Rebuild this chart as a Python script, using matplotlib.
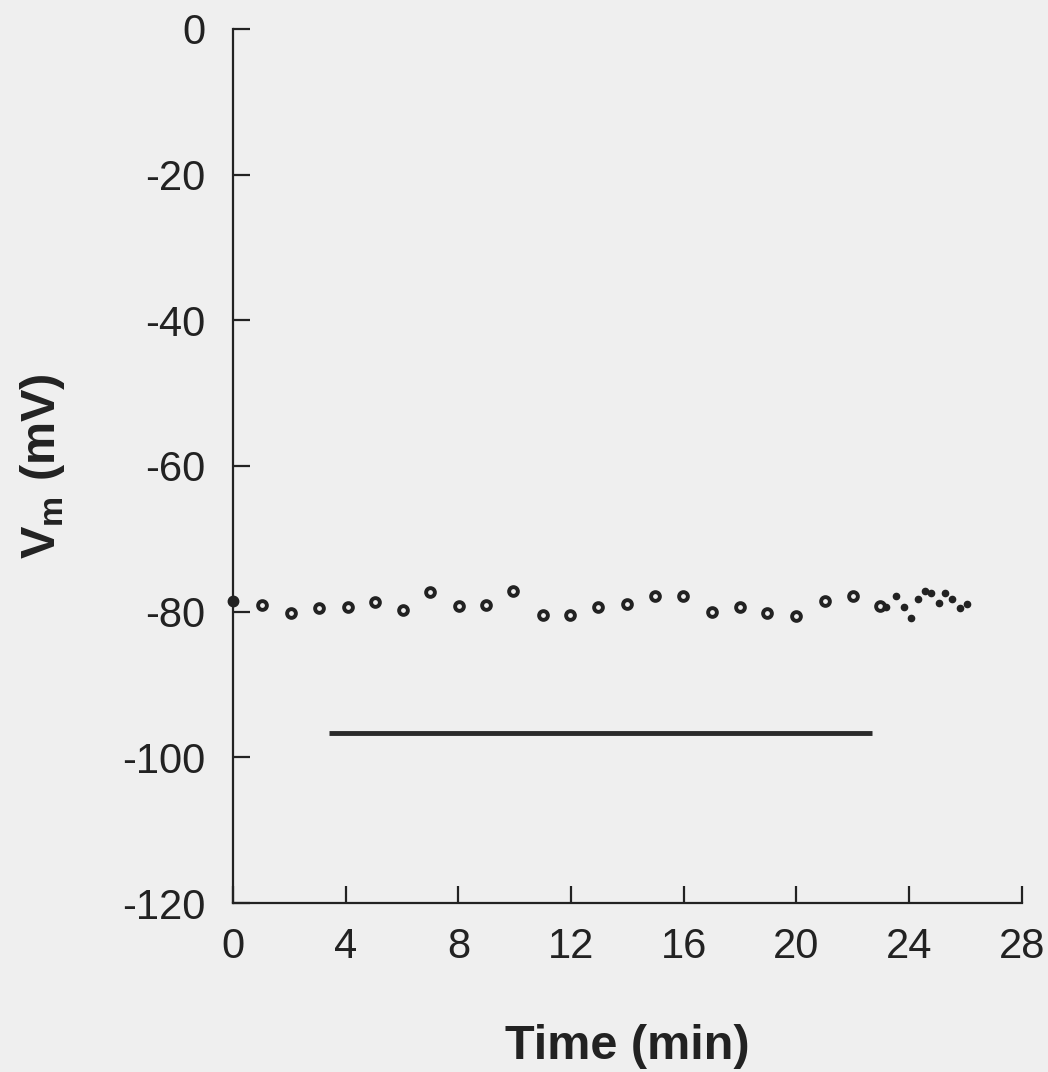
import numpy as np
import matplotlib.pyplot as plt

plt.rcParams['font.family'] = ['Liberation Sans', 'DejaVu Sans']
plt.rcParams['axes.unicode_minus'] = False

# open circles, one per minute
t_open = [1.04, 2.06, 3.06, 4.07, 5.05, 6.04, 7.01, 8.01, 8.98, 9.95,
          10.99, 11.96, 12.96, 13.97, 14.97, 15.98, 16.99, 17.99, 18.96, 19.97,
          21.03, 22.01, 22.98]
v_open = [-79.1, -80.2, -79.5, -79.4, -78.7, -79.8, -77.3, -79.2, -79.1, -77.2,
          -80.4, -80.5, -79.4, -79.0, -77.9, -77.8, -80.0, -79.3, -80.2, -80.6,
          -78.5, -77.9, -79.2]

# small dots at the end
t_dot = [23.17, 23.53, 23.81, 24.06, 24.32, 24.56, 24.79, 25.06, 25.29, 25.54, 25.80, 26.04]
v_dot = [-79.4, -77.8, -79.3, -80.9, -78.3, -77.1, -77.4, -78.8, -77.5, -78.3, -79.5, -78.9]

# first point
t0, v0 = 0.0, -78.5

# application bar
bar_t = [3.4, 22.7]
bar_v = -96.6

bg = '#efefef'
ink = '#222222'
fig = plt.figure(figsize=(10.48, 10.72), dpi=100, facecolor=bg)
ax = fig.add_axes([0.2223, 0.1576, 0.7527, 0.8154], facecolor=bg)

ax.plot(t_open, v_open, 'o', mfc='none', mec=ink, mew=2.8, ms=6.3, clip_on=False)
ax.plot(t_dot, v_dot, 'o', color=ink, ms=4.5, clip_on=False)
ax.plot([t0], [v0], 'o', color=ink, ms=7.5, clip_on=False, zorder=5)
ax.plot(bar_t, [bar_v, bar_v], color='#2a2a2a', lw=3.5, solid_capstyle='butt')

ax.set_xlim(0, 28)
ax.set_ylim(-120, 0)
ax.set_xticks(range(0, 29, 4))
ax.set_yticks(range(-120, 1, 20))
for s in ['top', 'right']:
    ax.spines[s].set_visible(False)
for s in ['left', 'bottom']:
    ax.spines[s].set_linewidth(1.6)
    ax.spines[s].set_color(ink)
ax.tick_params(direction='in', length=12, width=1.6, color=ink,
               labelsize=30, labelcolor=ink)
ax.tick_params(axis='y', pad=20)
ax.tick_params(axis='x', pad=17)

ax.set_xlabel('Time (min)', fontsize=35, fontweight='bold', color=ink)
ax.set_ylabel(r'V$_\mathregular{m}$ (mV)', fontsize=35, fontweight='bold', color=ink)
ax.xaxis.set_label_coords(0.5, -0.138)
ax.yaxis.set_label_coords(-0.21, 0.5)

fig.savefig('out.png', dpi=100, facecolor=bg)
